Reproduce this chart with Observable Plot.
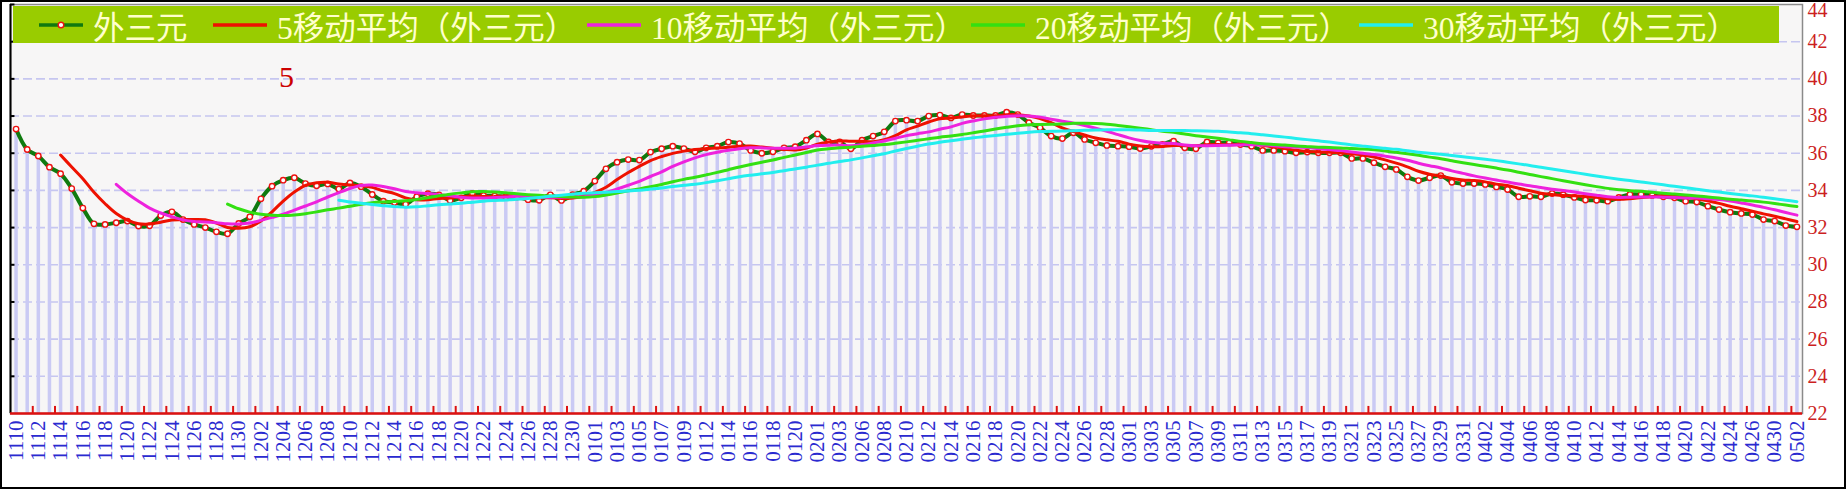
<!DOCTYPE html>
<html><head><meta charset="utf-8">
<script src="https://cdn.jsdelivr.net/npm/d3@7"></script>
<script src="https://cdn.jsdelivr.net/npm/@observablehq/plot@0.6"></script>
<style>
body{margin:0;background:#fff;}
#wrap{position:relative;width:1846px;height:489px;overflow:hidden;background:#fff;}
#chart svg{display:block;}
#frame{position:absolute;left:0;top:0;width:1846px;height:489px;box-sizing:border-box;border:2px solid #000;pointer-events:none;}
#legend{position:absolute;left:13px;top:6px;width:1766px;height:37px;background:#99cc00;font-family:"Liberation Serif","Noto Sans CJK SC",serif;font-size:31.5px;color:#ffffcc;}
.item{position:absolute;top:0;height:37px;display:flex;align-items:center;white-space:nowrap;}
.item svg{margin-right:10px;display:block;}
#note{position:absolute;left:279px;top:62px;font-family:"Liberation Serif",serif;font-size:30px;line-height:30px;color:#cc0000;}
</style></head>
<body><div id="wrap"><div id="chart"></div><div id="legend"></div><div id="note">5</div><div id="frame"></div></div>
<script>
const dates = [
"1110","1111","1112","1113","1114","1115","1116","1117","1118","1119","1120","1121","1122","1123","1124","1125","1126","1127","1128","1129","1130",
"1201","1202","1203","1204","1205","1206","1207","1208","1209","1210","1211","1212","1213","1214","1215","1216","1217","1218","1219","1220","1221","1222","1223","1224","1225","1226","1227","1228","1229","1230","1231",
"0101","0102","0103","0104","0105","0106","0107","0108","0109","0110","0112","0113","0114","0115","0116","0117","0118","0119","0120","0131",
"0201","0202","0203","0204","0206","0207","0208","0209","0210","0211","0212","0213","0214","0215","0216","0217","0218","0219","0220","0221","0222","0223","0224","0225","0226","0227","0228","0229",
"0301","0302","0303","0304","0305","0306","0307","0308","0309","0310","0311","0312","0313","0314","0315","0316","0317","0318","0319","0320","0321","0322","0323","0324","0325","0326","0327","0328","0329","0330","0331",
"0401","0402","0403","0404","0405","0406","0407","0408","0409","0410","0411","0412","0413","0414","0415","0416","0417","0418","0419","0420","0421","0422","0423","0424","0425","0426","0428","0430",
"0501","0502"];
const values = [
37.3,36.2,35.85,35.25,34.9,34.1,33.05,32.2,32.17,32.26,
32.35,32.08,32.1,32.65,32.85,32.43,32.17,32.0,31.77,31.67,
32.22,32.58,33.55,34.23,34.55,34.68,34.37,34.25,34.35,34.08,
34.4,34.2,33.78,33.42,33.35,33.25,33.66,33.82,33.76,33.46,
33.6,33.84,33.73,33.7,33.66,33.64,33.5,33.47,33.76,33.46,
33.77,33.96,34.5,35.16,35.52,35.66,35.63,36.06,36.24,36.38,
36.25,36.08,36.29,36.38,36.6,36.52,36.15,36.0,36.08,36.29,
36.35,36.7,37.04,36.61,36.61,36.24,36.7,36.92,37.15,37.73,
37.78,37.73,38.0,38.05,37.9,38.08,38.03,38.03,38.03,38.21,
38.08,37.64,37.37,36.92,36.79,37.1,36.74,36.56,36.42,36.38,
36.35,36.25,36.37,36.47,36.65,36.29,36.24,36.61,36.56,36.56,
36.47,36.38,36.15,36.15,36.11,36.02,36.06,36.02,36.02,36.02,
35.72,35.72,35.49,35.27,35.13,34.73,34.53,34.68,34.8,34.44,
34.37,34.37,34.32,34.19,34.05,33.66,33.68,33.66,33.83,33.77,
33.62,33.48,33.47,33.42,33.62,33.78,33.78,33.73,33.66,33.6,
33.42,33.37,33.15,32.97,32.83,32.76,32.7,32.43,32.35,32.11,
32.04];
const yTicks = [22,24,26,28,30,32,34,36,38,40,42];
const yTopTick = [44];
const gridTicks = [24,26,28,30,32,34,36,38,40,42];
const seriesName = "外三元";
const maWindows = [5,10,20,30];
const maLabels = ["5移动平均（外三元）","10移动平均（外三元）","20移动平均（外三元）","30移动平均（外三元）"];
const maColors = ["#ee1100","#ee22dd","#33e011","#22eeee"];
const mainColor = "#0f7a0f";
const annotation = "5";

const data = dates.map((d,i)=>({i, date:d, value:values[i]}));
const labelRows = data.filter(d=>d.i%2===0);
const tickRows = data.filter(d=>d.i%2===1);
const n = dates.length;

const maMarks = maWindows.map((k,j)=>Plot.lineY(data, Plot.windowY({k, anchor:"end", reduce:"mean", strict:true},
  {x:"i", y:"value", stroke:maColors[j], strokeWidth:3, curve:"catmull-rom"})));

const yLabelStyle = {textAnchor:"start", dx:5, fill:"#cc1f1f", fontSize:20, fontFamily:"Liberation Serif"};

const chart = Plot.plot({
  width:1846, height:489,
  marginTop:4, marginBottom:76, marginLeft:10, marginRight:44,
  x:{domain:[-0.5, n-0.5], axis:null},
  y:{domain:[22,44], axis:null},
  style:{background:"#fff", overflow:"visible"},
  marks:[
    Plot.frame({fill:"#f7f6f6", stroke:"none"}),
    Plot.ruleY(gridTicks, {stroke:"#c6c6f0", strokeWidth:1.6, strokeDasharray:"9,4"}),
    Plot.ruleX(data, {x:"i", y1:22, y2:"value", stroke:"#cacaf4", strokeWidth:3.5}),
    Plot.lineY(data, {x:"i", y:"value", stroke:mainColor, strokeWidth:4, curve:"catmull-rom"}),
    Plot.dot(data, {x:"i", y:"value", r:2.7, stroke:"#ee1111", fill:"#ffffff", strokeWidth:1.4}),
    ...maMarks,
    Plot.frame({stroke:"#8a8a8a", strokeWidth:1.5}),
    Plot.ruleX([-0.5], {stroke:"#000", strokeWidth:2}),
    Plot.ruleY(gridTicks.concat(yTopTick), {x1:-0.5, x2:-0.1, stroke:"#000", strokeWidth:2}),
    Plot.ruleY([22], {stroke:"#dd1111", strokeWidth:2.5}),
    Plot.ruleX(tickRows, {x:d=>d.i+0.5, y1:22, y2:22.38, stroke:"#dd1111", strokeWidth:2}),
    Plot.text(labelRows, {x:"i", y:22, text:"date", rotate:-90, textAnchor:"end", dy:7, fill:"#2a2ad0", fontSize:21, fontFamily:"Liberation Serif"}),
    Plot.text(yTicks, {x:n-0.5, y:d=>d, text:d=>String(d), ...yLabelStyle}),
    Plot.text(yTopTick, {x:n-0.5, y:d=>d, text:d=>String(d), ...yLabelStyle, dy:6})
  ]
});
document.getElementById("chart").appendChild(chart);
document.getElementById("note").textContent = annotation;

// legend
const legend = document.getElementById("legend");
const items = [{label:seriesName, color:mainColor, marker:true}].concat(maLabels.map((l,j)=>({label:l, color:maColors[j], marker:false})));
const lefts = [26, 200, 574, 958, 1346];
const swW = [44, 54, 54, 54, 54];
items.forEach((it,j)=>{
  const div = document.createElement("div");
  div.className = "item";
  div.style.left = lefts[j] + "px";
  const svg = d3.create("svg").attr("width", swW[j]).attr("height", 37);
  svg.append("line").attr("x1",0).attr("x2",swW[j]).attr("y1",19).attr("y2",19).attr("stroke",it.color).attr("stroke-width",3.5);
  if (it.marker) svg.append("circle").attr("cx",swW[j]/2).attr("cy",19).attr("r",2.8).attr("fill","#fff").attr("stroke","#ee1111").attr("stroke-width",1.4);
  div.appendChild(svg.node());
  const span = document.createElement("span");
  span.textContent = it.label;
  div.appendChild(span);
  legend.appendChild(div);
});
</script>
</body></html>
